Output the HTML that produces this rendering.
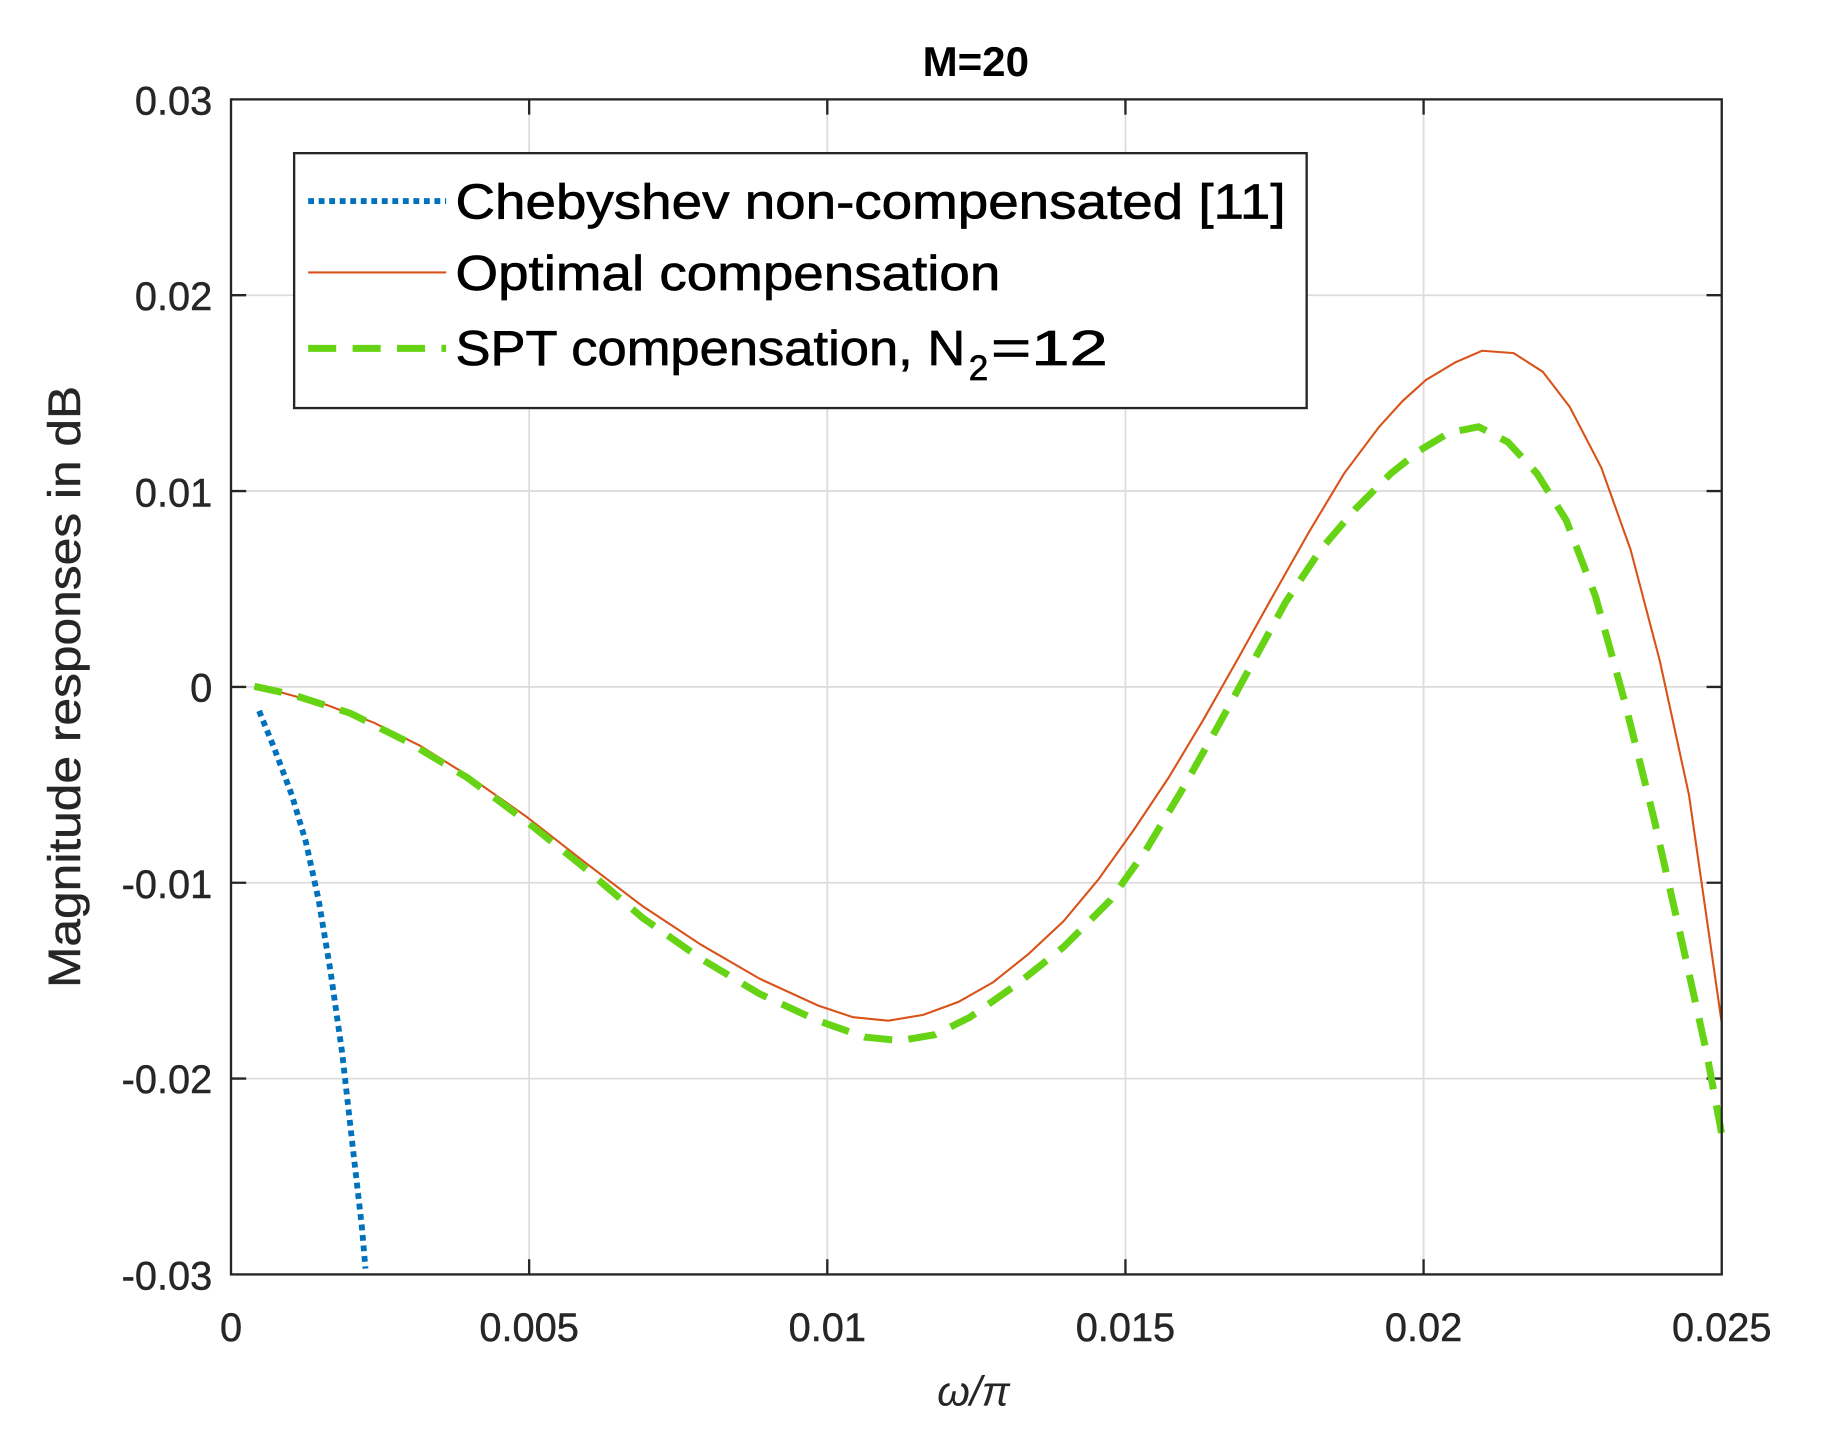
<!DOCTYPE html>
<html><head><meta charset="utf-8"><style>html,body{margin:0;padding:0;background:#fff}svg{display:block}</style></head>
<body>
<svg width="1832" height="1443" viewBox="0 0 1832 1443" xmlns="http://www.w3.org/2000/svg">
<rect width="1832" height="1443" fill="#fff"/>
<g transform="translate(-0.5,0) scale(1.1692)" font-family="Liberation Sans, Arial, sans-serif" fill="#262626">
<g stroke="#dcdcdc" stroke-width="1.5">
<line x1="453" y1="85" x2="453" y2="1090"/><line x1="708" y1="85" x2="708" y2="1090"/>
<line x1="963" y1="85" x2="963" y2="1090"/><line x1="1218" y1="85" x2="1218" y2="1090"/>
<line x1="198" y1="252.5" x2="1473" y2="252.5"/><line x1="198" y1="420" x2="1473" y2="420"/>
<line x1="198" y1="587.5" x2="1473" y2="587.5"/><line x1="198" y1="755" x2="1473" y2="755"/>
<line x1="198" y1="922.5" x2="1473" y2="922.5"/>
</g>
<g stroke="#262626" stroke-width="2">
<path d="M453 85v13M708 85v13M963 85v13M1218 85v13M453 1090v-13M708 1090v-13M963 1090v-13M1218 1090v-13"/>
<path d="M198 252.5h13M198 420h13M198 587.5h13M198 755h13M198 922.5h13M1473 252.5h-13M1473 420h-13M1473 587.5h-13M1473 755h-13M1473 922.5h-13"/>
</g>
<polyline fill="none" stroke="#d95319" stroke-width="1.8" points="218,587 240,592 280,603 320,618 360,638 400,663 450,698 500,737 550,775 600,808 650,837 700,860 730,870 760,873 790,868 820,857 850,840 880,816 910,788 940,752 970,710 1000,665 1030,615 1060,562 1090,508 1120,455 1150,405 1180,365 1200,343 1220,325 1245,310 1268,300 1295,302 1320,318 1343,348 1370,400 1395,470 1420,565 1445,680 1473,875"/>
<polyline fill="none" stroke="#66d414" stroke-width="6" stroke-dasharray="24,14" points="218,587 250,594 300,610 350,635 400,665 450,702 500,742 550,785 600,820 650,850 700,873 740,887 770,890 800,885 830,870 870,842 910,810 950,770 980,728 1010,678 1040,625 1070,570 1100,515 1130,470 1160,435 1190,405 1215,385 1240,370 1265,365 1290,378 1315,405 1340,445 1365,510 1390,600 1415,700 1440,810 1460,900 1473,970"/>
<polyline fill="none" stroke="#0072bd" stroke-width="5" stroke-dasharray="5,4" points="222,608 235,640 250,680 262,720 273,770 283,830 293,900 302,980 310,1050 313,1085"/>
<rect x="198" y="85" width="1275" height="1005" fill="none" stroke="#262626" stroke-width="2"/>
<rect x="252" y="131" width="866" height="218" fill="#fff" stroke="#262626" stroke-width="2"/>
<line x1="264" y1="172" x2="382" y2="172" stroke="#0072bd" stroke-width="5" stroke-dasharray="5,4"/>
<line x1="264" y1="233" x2="382" y2="233" stroke="#d95319" stroke-width="1.8"/>
<line x1="264" y1="298" x2="382" y2="298" stroke="#66d414" stroke-width="6" stroke-dasharray="24,14"/>
<g font-size="42" fill="#000" stroke="#000" stroke-width="0.6">
<text x="390" y="187" textLength="710" lengthAdjust="spacingAndGlyphs">Chebyshev non-compensated [11]</text>
<text x="390" y="248" textLength="466" lengthAdjust="spacingAndGlyphs">Optimal compensation</text>
<text x="390" y="312" textLength="436" lengthAdjust="spacingAndGlyphs">SPT compensation, N</text>
<text x="829" y="325" font-size="30">2</text>
<text x="848" y="312" textLength="100" lengthAdjust="spacingAndGlyphs">=12</text>
</g>
<g font-size="34" text-anchor="end" stroke="#262626" stroke-width="0.4">
<text x="182" y="98">0.03</text><text x="182" y="265">0.02</text><text x="182" y="433">0.01</text>
<text x="182" y="600">0</text><text x="182" y="768">-0.01</text><text x="182" y="935">-0.02</text><text x="182" y="1103">-0.03</text>
</g>
<g font-size="34" text-anchor="middle" stroke="#262626" stroke-width="0.4">
<text x="198" y="1147">0</text><text x="453" y="1147">0.005</text><text x="708" y="1147">0.01</text>
<text x="963" y="1147">0.015</text><text x="1218" y="1147">0.02</text><text x="1473" y="1147">0.025</text>
</g>
<text x="835" y="65" font-size="36" font-weight="bold" text-anchor="middle" fill="#000">M=20</text>
<text transform="translate(69,588) rotate(-90)" x="-257" font-size="39" textLength="515" lengthAdjust="spacingAndGlyphs" stroke="#262626" stroke-width="0.4">Magnitude responses in dB</text>
<text x="833" y="1202" font-size="36" font-style="italic" text-anchor="middle">ω/π</text>
</g>
</svg>
</body></html>
